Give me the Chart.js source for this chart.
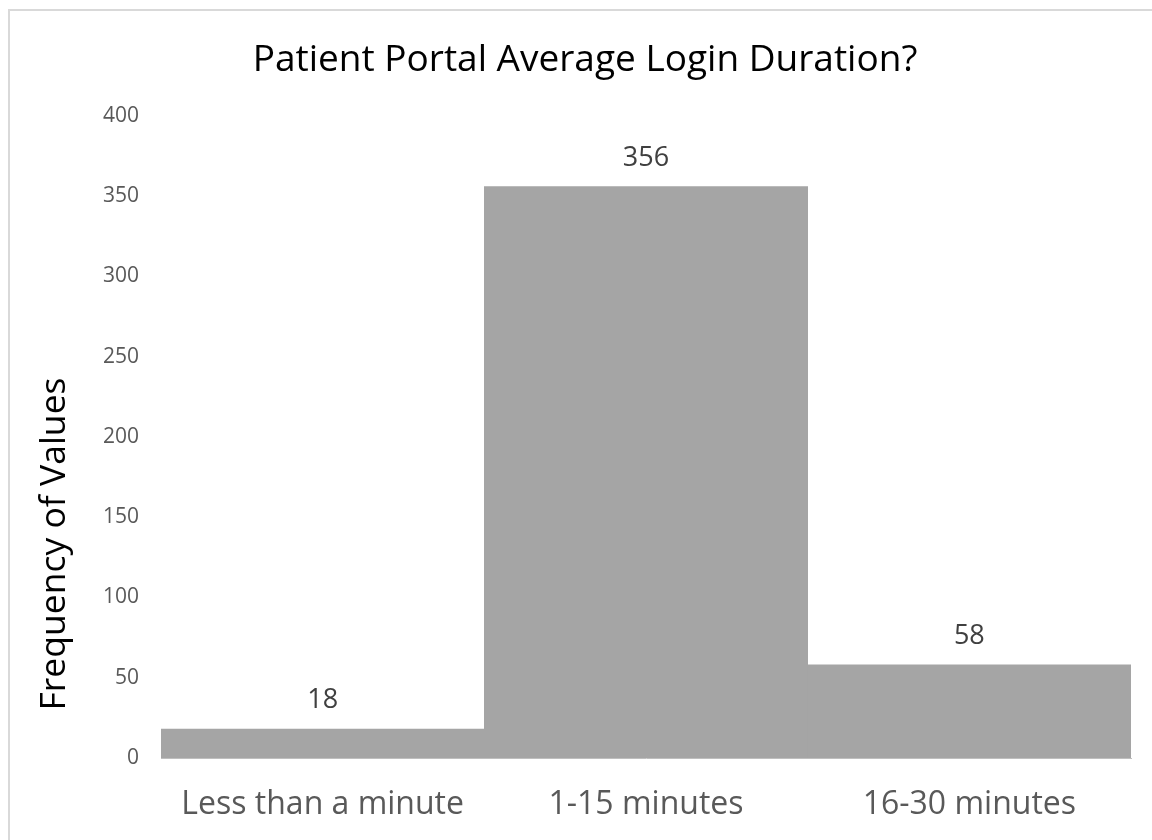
<!DOCTYPE html>
<html>
<head>
<meta charset="utf-8">
<script src="https://cdn.jsdelivr.net/npm/chart.js@4"></script>
<style>
  html, body { margin: 0; padding: 0; background: #fff; overflow: hidden; }
  #wrap { position: relative; width: 1152px; height: 840px; }
  #frame { position: absolute; left: 8px; top: 9px; width: 1200px; height: 900px; border: 2px solid #d9d9d9; }
  canvas { position: absolute; left: 0; top: 0; }
</style>
</head>
<body>
<div id="wrap">
  <div id="frame"></div>
  <canvas id="chart" width="1152" height="840"></canvas>
</div>
<script>
// 数据
const categories = ['Less than a minute', '1-15 minutes', '16-30 minutes'];
const frequencies = [18, 356, 58];
const yAxisTitle = 'Frequency of Values';

const fontFamily = '"Open Sans", "Noto Sans", sans-serif';

// 柱子上方的数值标签
const valueLabels = {
  id: 'valueLabels',
  afterDatasetsDraw(chart) {
    const ctx = chart.ctx;
    const meta = chart.getDatasetMeta(0);
    ctx.save();
    ctx.font = `27px ${fontFamily}`;
    ctx.fillStyle = '#404040';
    ctx.textAlign = 'center';
    ctx.textBaseline = 'alphabetic';
    meta.data.forEach((bar, i) => {
      ctx.fillText(String(frequencies[i]), bar.x, bar.y - 21);
    });
    ctx.restore();
  }
};

// Y 轴标题（位置比绘图区中心偏下）
const yTitle = {
  id: 'yTitle',
  afterDraw(chart) {
    const ctx = chart.ctx;
    ctx.save();
    ctx.translate(65, 544);
    ctx.rotate(-Math.PI / 2);
    ctx.font = `35.5px ${fontFamily}`;
    ctx.fillStyle = '#000000';
    ctx.textAlign = 'center';
    ctx.textBaseline = 'alphabetic';
    ctx.fillText(yAxisTitle, 0, 0);
    ctx.restore();
  }
};

const ctx = document.getElementById('chart').getContext('2d');
new Chart(ctx, {
  type: 'bar',
  data: {
    labels: categories,
    datasets: [
      {
        label: 'Frequency',
        data: frequencies,
        backgroundColor: '#a5a5a5',
        borderWidth: 0,
        barPercentage: 1,
        categoryPercentage: 1,
      }
    ],
  },
  options: {
    responsive: false,
    animation: false,
    layout: { padding: { left: 39, right: 21, top: 0, bottom: 0 } },
    plugins: {
      legend: { display: false },
      tooltip: { enabled: false },
      title: {
        display: true,
        text: 'Patient Portal Average Login Duration?',
        color: '#000000',
        font: { family: fontFamily, size: 37, weight: 'normal', lineHeight: 1.2 },
        padding: { top: 38, bottom: 33.6 },
      },
    },
    scales: {
      x: {
        grid: { display: false, drawTicks: false },
        border: { display: true, color: '#bfbfbf', width: 1 },
        ticks: {
          color: '#595959',
          font: { family: fontFamily, size: 32 },
          padding: 28,
          maxRotation: 0,
        },
        afterFit(scale) { scale.height = 82; },
      },
      y: {
        min: 0,
        max: 400,
        grid: { display: false, drawTicks: false },
        border: { display: false },
        ticks: {
          stepSize: 50,
          color: '#595959',
          font: { family: fontFamily, size: 21 },
          padding: 22,
        },
        afterFit(scale) { scale.width = 161 - 39; },
      },
    },
  },
  plugins: [valueLabels, yTitle],
});
</script>
</body>
</html>
